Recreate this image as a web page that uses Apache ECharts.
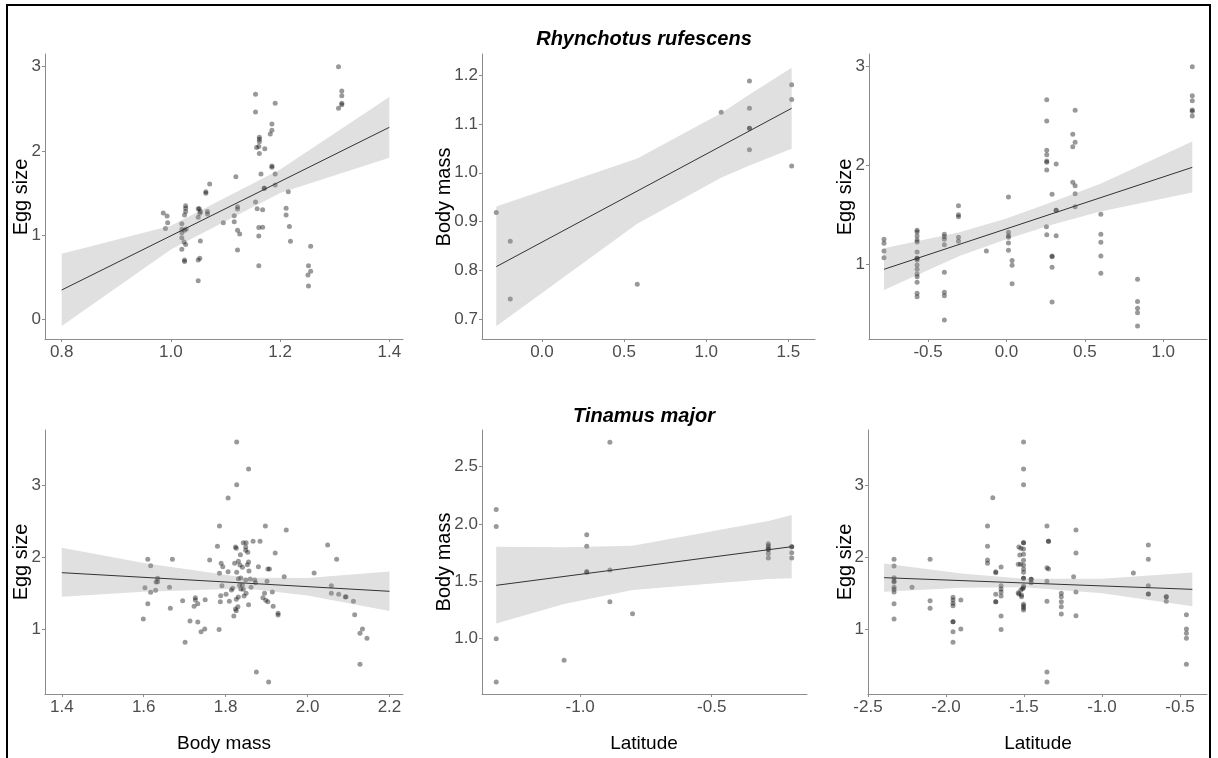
<!DOCTYPE html>
<html>
<head>
<meta charset="utf-8">
<script src="https://cdn.jsdelivr.net/npm/echarts@6/dist/echarts.min.js"></script>
<style>
  html, body { margin: 0; padding: 0; background: #fff; }
  #chart { width: 1218px; height: 758px; }
</style>
</head>
<body>
<div id="chart"></div>
<script>
// Rhynchotus rufescens: egg size vs body mass
const p1Points = [[0.986,1.263],[0.993,1.227],[0.994,1.148],[0.990,1.077],[1.020,1.136],[1.020,1.069],[1.020,1.029],[1.020,0.970],[1.024,0.918],[1.027,0.887],[1.020,0.831],[1.025,0.705],[1.025,0.685],[1.027,1.350],[1.027,1.318],[1.027,1.279],[1.025,1.239],[1.028,1.073],[1.025,1.057],[1.050,1.211],[1.050,1.314],[1.052,1.314],[1.054,1.279],[1.053,1.259],[1.054,0.930],[1.050,0.705],[1.053,0.724],[1.050,0.459],[1.064,1.516],[1.064,1.496],[1.067,1.279],[1.067,1.251],[1.071,1.607],[1.096,1.148],[1.119,1.694],[1.116,1.231],[1.116,1.160],[1.122,1.338],[1.122,1.310],[1.122,1.057],[1.126,1.013],[1.122,0.823],[1.155,2.672],[1.155,2.462],[1.155,1.394],[1.157,2.039],[1.161,2.051],[1.162,2.162],[1.162,2.138],[1.162,2.110],[1.162,1.968],[1.165,1.726],[1.158,1.314],[1.161,1.089],[1.161,0.990],[1.161,0.637],[1.168,1.302],[1.168,1.093],[1.171,1.556],[1.171,1.556],[1.172,2.027],[1.182,2.201],[1.185,2.245],[1.185,2.320],[1.185,1.821],[1.185,1.805],[1.191,2.565],[1.191,1.726],[1.191,1.595],[1.215,1.516],[1.211,1.318],[1.211,1.239],[1.217,1.101],[1.219,0.926],[1.251,0.527],[1.252,0.637],[1.252,0.396],[1.256,0.867],[1.256,0.570],[1.307,3.001],[1.307,2.506],[1.313,2.712],[1.313,2.656],[1.313,2.565],[1.313,2.549]];
const p1Fit = [[0.8, 0.348], [1.4, 2.28]];
const p1BandX = [0.8, 1.0, 1.2, 1.4];
const p1BandHi = [0.78, 1.11, 1.78, 2.64];
const p1BandLo = [-0.08, 0.83, 1.50, 1.92];
const p1XTicks = [0.8, 1.0, 1.2, 1.4];
const p1YTicks = [0, 1, 2, 3];

// Rhynchotus rufescens: body mass vs latitude
const p2Points = [[-0.278,0.919],[-0.193,0.860],[-0.193,0.742],[0.580,0.772],[1.091,1.124],[1.263,1.188],[1.263,1.132],[1.263,1.091],[1.263,1.091],[1.263,1.047],[1.520,1.180],[1.520,1.150],[1.520,1.014]];
const p2Fit = [[-0.278, 0.808], [1.52, 1.132]];
const p2BandX = [-0.278, 0.58, 1.09, 1.263, 1.52];
const p2BandHi = [0.931, 1.029, 1.122, 1.160, 1.215];
const p2BandLo = [0.686, 0.896, 0.990, 1.015, 1.049];
const p2XTicks = [0.0, 0.5, 1.0, 1.5];
const p2YTicks = [0.7, 0.8, 0.9, 1.0, 1.1, 1.2];

// Rhynchotus rufescens: egg size vs latitude
const p3Points = [[-0.781,1.249],[-0.781,1.209],[-0.781,1.131],[-0.781,1.064],[-0.570,1.340],[-0.570,1.323],[-0.570,1.283],[-0.570,1.242],[-0.570,1.222],[-0.570,1.121],[-0.570,1.057],[-0.570,1.057],[-0.570,1.040],[-0.570,0.990],[-0.570,0.946],[-0.570,0.899],[-0.570,0.872],[-0.570,0.815],[-0.570,0.704],[-0.570,0.670],[-0.396,1.300],[-0.396,1.276],[-0.396,1.249],[-0.396,1.195],[-0.396,0.916],[-0.396,0.714],[-0.396,0.680],[-0.396,0.434],[-0.306,1.589],[-0.306,1.498],[-0.306,1.478],[-0.306,1.269],[-0.306,1.229],[-0.128,1.131],[0.013,1.677],[0.013,1.320],[0.013,1.286],[0.013,1.269],[0.013,1.212],[0.013,1.138],[0.036,1.034],[0.036,0.987],[0.036,0.801],[0.257,2.660],[0.257,2.444],[0.257,2.148],[0.257,2.104],[0.257,2.040],[0.257,2.027],[0.257,1.949],[0.255,1.377],[0.257,1.296],[0.291,1.704],[0.291,1.081],[0.291,1.074],[0.291,0.966],[0.291,0.616],[0.317,2.010],[0.317,1.542],[0.317,1.542],[0.317,1.286],[0.423,2.310],[0.423,2.185],[0.438,2.229],[0.438,2.552],[0.423,1.825],[0.438,1.791],[0.438,1.710],[0.438,1.579],[0.602,1.502],[0.602,1.300],[0.602,1.219],[0.602,1.081],[0.602,0.906],[0.836,0.845],[0.836,0.620],[0.836,0.552],[0.836,0.508],[0.836,0.374],[1.185,2.993],[1.185,2.700],[1.185,2.650],[1.185,2.556],[1.185,2.542],[1.185,2.495]];
const p3Fit = [[-0.781, 0.946], [1.185, 1.976]];
const p3BandX = [-0.781, -0.3, 0.0, 0.3, 0.6, 1.185];
const p3BandHi = [1.158, 1.32, 1.46, 1.63, 1.81, 2.236];
const p3BandLo = [0.737, 1.08, 1.25, 1.40, 1.53, 1.721];
const p3XTicks = [-0.5, 0.0, 0.5, 1.0];
const p3YTicks = [1, 2, 3];

// Tinamus major: egg size vs body mass
const p4Points = [[1.599,1.143],[1.603,1.577],[1.610,1.970],[1.610,1.356],[1.617,1.882],[1.617,1.513],[1.629,1.540],[1.630,1.656],[1.634,1.707],[1.634,1.660],[1.663,1.582],[1.665,1.291],[1.670,1.970],[1.695,1.397],[1.701,0.820],[1.713,1.115],[1.723,1.319],[1.726,1.439],[1.726,1.406],[1.732,1.356],[1.732,1.102],[1.740,0.968],[1.749,1.005],[1.750,1.411],[1.761,1.961],[1.780,2.150],[1.784,0.996],[1.785,2.432],[1.785,1.776],[1.787,1.383],[1.788,1.467],[1.789,1.915],[1.793,1.868],[1.791,1.605],[1.801,1.485],[1.806,2.820],[1.806,1.799],[1.809,1.388],[1.814,1.545],[1.817,1.568],[1.820,1.185],[1.822,1.915],[1.824,2.141],[1.826,2.122],[1.827,1.790],[1.826,1.416],[1.824,1.282],[1.826,1.259],[1.827,3.596],[1.827,3.005],[1.831,1.942],[1.831,1.702],[1.831,1.448],[1.830,1.314],[1.834,1.610],[1.835,1.891],[1.836,2.035],[1.837,1.711],[1.837,1.559],[1.841,1.614],[1.841,1.859],[1.843,2.201],[1.843,1.554],[1.845,1.462],[1.849,2.141],[1.849,2.095],[1.849,1.684],[1.850,2.201],[1.850,1.499],[1.853,1.896],[1.854,2.067],[1.856,1.933],[1.856,3.222],[1.857,1.808],[1.856,1.342],[1.860,1.697],[1.862,1.582],[1.867,2.219],[1.871,1.684],[1.873,1.647],[1.875,0.409],[1.880,1.868],[1.884,2.219],[1.891,1.439],[1.895,1.499],[1.897,2.432],[1.898,1.402],[1.901,1.665],[1.903,1.383],[1.903,1.836],[1.907,1.836],[1.905,0.270],[1.914,1.517],[1.916,1.319],[1.921,2.058],[1.928,1.222],[1.928,1.199],[1.943,1.730],[1.948,2.376],[2.016,1.781],[2.049,2.169],[2.058,1.605],[2.058,1.499],[2.071,1.970],[2.076,1.485],[2.092,1.448],[2.094,1.453],[2.112,1.388],[2.115,1.203],[2.134,1.005],[2.128,0.945],[2.145,0.875],[2.128,0.515]];
const p4Fit = [[1.4, 1.785], [2.2, 1.527]];
const p4BandX = [1.4, 1.6, 1.85, 2.0, 2.2];
const p4BandHi = [2.13, 1.92, 1.715, 1.71, 1.80];
const p4BandLo = [1.45, 1.52, 1.565, 1.47, 1.255];
const p4XTicks = [1.4, 1.6, 1.8, 2.0, 2.2];
const p4YTicks = [1, 2, 3];

// Tinamus major: body mass vs latitude
const p5Points = [[-1.319,2.127],[-1.319,1.978],[-1.319,0.996],[-1.319,0.618],[-1.061,0.807],[-0.975,1.906],[-0.975,1.804],[-0.975,1.585],[-0.975,1.576],[-0.887,2.713],[-0.887,1.597],[-0.887,1.320],[-0.801,1.215],[-0.285,1.827],[-0.285,1.809],[-0.285,1.792],[-0.285,1.777],[-0.285,1.777],[-0.285,1.742],[-0.285,1.702],[-0.196,1.801],[-0.196,1.801],[-0.196,1.748],[-0.196,1.702]];
const p5Fit = [[-1.319, 1.463], [-0.196, 1.801]];
const p5BandX = [-1.319, -1.061, -0.801, -0.285, -0.196];
const p5BandHi = [1.801, 1.795, 1.809, 2.025, 2.077];
const p5BandLo = [1.130, 1.300, 1.422, 1.518, 1.525];
const p5XTicks = [-1.0, -0.5];
const p5YTicks = [1.0, 1.5, 2.0, 2.5];

// Tinamus major: egg size vs latitude
const p6Points = [[-2.333,1.970],[-2.333,1.878],[-2.333,1.716],[-2.333,1.656],[-2.333,1.670],[-2.333,1.582],[-2.333,1.554],[-2.333,1.517],[-2.333,1.356],[-2.333,1.143],[-2.218,1.582],[-2.102,1.970],[-2.102,1.397],[-2.102,1.291],[-1.955,1.443],[-1.955,1.406],[-1.955,1.360],[-1.955,1.328],[-1.955,1.106],[-1.955,1.106],[-1.955,0.968],[-1.955,0.820],[-1.905,1.406],[-1.905,1.005],[-1.734,2.432],[-1.734,2.150],[-1.734,1.961],[-1.734,1.915],[-1.700,2.824],[-1.681,1.799],[-1.681,1.785],[-1.681,1.485],[-1.681,1.383],[-1.681,1.383],[-1.647,1.864],[-1.647,1.605],[-1.647,1.559],[-1.647,1.517],[-1.647,1.462],[-1.647,1.185],[-1.647,0.996],[-1.537,1.508],[-1.533,1.490],[-1.533,2.141],[-1.527,2.030],[-1.520,2.122],[-1.537,1.901],[-1.522,1.901],[-1.516,1.476],[-1.520,1.545],[-1.516,1.453],[-1.503,3.596],[-1.503,3.222],[-1.503,3.005],[-1.503,2.201],[-1.503,2.201],[-1.503,2.113],[-1.503,2.039],[-1.503,1.956],[-1.503,1.891],[-1.503,1.836],[-1.503,1.790],[-1.503,1.707],[-1.503,1.707],[-1.503,1.601],[-1.503,1.577],[-1.510,1.563],[-1.503,1.346],[-1.503,1.323],[-1.503,1.296],[-1.503,1.268],[-1.454,1.693],[-1.454,1.693],[-1.454,1.647],[-1.353,2.432],[-1.353,1.855],[-1.353,1.665],[-1.353,1.388],[-1.353,0.409],[-1.353,0.270],[-1.343,2.219],[-1.343,2.219],[-1.343,1.836],[-1.261,1.499],[-1.261,1.453],[-1.261,1.383],[-1.261,1.314],[-1.261,1.212],[-1.182,1.730],[-1.167,2.376],[-1.167,2.058],[-1.167,1.517],[-1.167,1.189],[-0.799,1.781],[-0.703,2.169],[-0.703,1.970],[-0.703,1.605],[-0.703,1.490],[-0.703,1.490],[-0.588,1.453],[-0.588,1.453],[-0.588,1.388],[-0.459,1.203],[-0.459,1.005],[-0.459,0.945],[-0.459,0.875],[-0.459,0.515]];
const p6Fit = [[-2.397, 1.716], [-0.421, 1.554]];
const p6BandX = [-2.397, -1.9, -1.5, -1.0, -0.421];
const p6BandHi = [1.911, 1.775, 1.702, 1.701, 1.789];
const p6BandLo = [1.521, 1.575, 1.582, 1.501, 1.319];
const p6XTicks = [-2.5, -2.0, -1.5, -1.0, -0.5];
const p6YTicks = [1, 2, 3];

const FONT = 'Arial, "Liberation Sans", sans-serif';
const AXIS_GRAY = '#8c8c8c';
const LABEL_GRAY = '#4d4d4d';

const chart = echarts.init(document.getElementById('chart'), null, { renderer: 'canvas' });

function axis(idx, min, max, ticks, dec, margin) {
  return {
    type: 'value', gridIndex: idx, min: min, max: max,
    splitLine: { show: false },
    axisLine: { onZero: false, lineStyle: { color: AXIS_GRAY, width: 1 } },
    axisTick: { customValues: ticks, length: 3, lineStyle: { color: AXIS_GRAY } },
    axisLabel: {
      customValues: ticks, color: LABEL_GRAY, fontSize: 17, fontFamily: FONT, margin: margin,
      formatter: v => Number(v).toFixed(dec),
    },
  };
}

function panelSeries(idx, pts, fit, bx, lo, hi) {
  return [
    {
      type: 'scatter', xAxisIndex: idx, yAxisIndex: idx, data: pts,
      symbolSize: 5, itemStyle: { color: 'rgba(0,0,0,0.5)' }, z: 2, silent: true,
    },
    {
      type: 'custom', xAxisIndex: idx, yAxisIndex: idx, z: 3, silent: true,
      data: bx.map((x, i) => [x, lo[i], hi[i]]),
      renderItem: (params, api) => {
        if (params.dataIndex !== 0) return null
        const top = bx.map((x, i) => api.coord([x, hi[i]]))
        const bot = bx.map((x, i) => api.coord([x, lo[i]])).reverse()
        return {
          type: 'polygon',
          shape: { points: top.concat(bot) },
          style: { fill: 'rgba(153,153,153,0.3)' },
        }
      },
    },
    {
      type: 'line', xAxisIndex: idx, yAxisIndex: idx, data: fit,
      showSymbol: false, z: 4, silent: true,
      lineStyle: { color: '#333', width: 1 },
    },
  ]
}

function yTitle(x, y, text) {
  return {
    type: 'text', x: x, y: y, rotation: Math.PI / 2,
    style: { text: text, fontSize: 20, fontFamily: FONT, fill: '#000', align: 'center', verticalAlign: 'middle' },
  }
}
function xTitle(x, y, text) {
  return {
    type: 'text', x: x, y: y,
    style: { text: text, fontSize: 19, fontFamily: FONT, fill: '#000', align: 'center', verticalAlign: 'middle' },
  }
}
function panelTitle(x, y, text) {
  return {
    type: 'text', x: x, y: y,
    style: { text: text, fontSize: 20, fontWeight: 'bold', fontStyle: 'italic', fontFamily: FONT, fill: '#000', align: 'center', verticalAlign: 'middle' },
  }
}

const option = {
  animation: false,
  backgroundColor: '#fff',
  grid: [
    { left: 45, top: 54, width: 358, height: 285 },
    { left: 482, top: 54, width: 333, height: 285 },
    { left: 869, top: 54, width: 338, height: 285 },
    { left: 45, top: 430, width: 358, height: 264 },
    { left: 482, top: 430, width: 325, height: 264 },
    { left: 868, top: 430, width: 339, height: 264 },
  ],
  xAxis: [
    axis(0, 0.7694, 1.4251, p1XTicks, 1, 5),
    axis(1, -0.365, 1.662, p2XTicks, 1, 5),
    axis(2, -0.8766, 1.279, p3XTicks, 1, 5),
    axis(3, 1.359, 2.233, p4XTicks, 1, 5),
    axis(4, -1.373, -0.138, p5XTicks, 1, 5),
    axis(5, -2.5, -0.327, p6XTicks, 1, 5),
  ],
  yAxis: [
    axis(0, -0.234, 3.151, p1YTicks, 0, 4),
    axis(1, 0.660, 1.243, p2YTicks, 1, 4),
    axis(2, 0.242, 3.121, p3YTicks, 0, 4),
    axis(3, 0.104, 3.762, p4YTicks, 0, 4),
    axis(4, 0.513, 2.821, p5YTicks, 1, 4),
    axis(5, 0.104, 3.762, p6YTicks, 0, 4),
  ],
  series: [
    ...panelSeries(0, p1Points, p1Fit, p1BandX, p1BandLo, p1BandHi),
    ...panelSeries(1, p2Points, p2Fit, p2BandX, p2BandLo, p2BandHi),
    ...panelSeries(2, p3Points, p3Fit, p3BandX, p3BandLo, p3BandHi),
    ...panelSeries(3, p4Points, p4Fit, p4BandX, p4BandLo, p4BandHi),
    ...panelSeries(4, p5Points, p5Fit, p5BandX, p5BandLo, p5BandHi),
    ...panelSeries(5, p6Points, p6Fit, p6BandX, p6BandLo, p6BandHi),
  ],
  graphic: [
    // outer frame, bottom edge falls outside the picture
    { type: 'rect', shape: { x: 7, y: 5, width: 1203, height: 800 }, style: { fill: 'none', stroke: '#000', lineWidth: 2 }, silent: true },
    panelTitle(644, 39, 'Rhynchotus rufescens'),
    panelTitle(644, 416, 'Tinamus major'),
    yTitle(21, 197, 'Egg size'),
    yTitle(444, 197, 'Body mass'),
    yTitle(845, 197, 'Egg size'),
    yTitle(21, 562, 'Egg size'),
    yTitle(444, 562, 'Body mass'),
    yTitle(845, 562, 'Egg size'),
    xTitle(224, 744, 'Body mass'),
    xTitle(644, 744, 'Latitude'),
    xTitle(1038, 744, 'Latitude'),
  ],
}

chart.setOption(option)
window.addEventListener('resize', () => chart.resize())
</script>
</body>
</html>
